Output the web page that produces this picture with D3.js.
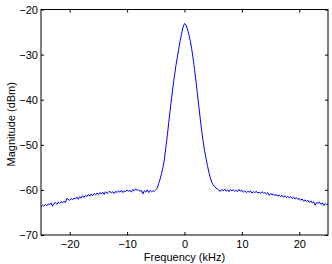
<!DOCTYPE html>
<html>
<head>
<meta charset="utf-8">
<script src="https://cdn.jsdelivr.net/npm/d3@7"></script>
<style>
html,body{margin:0;padding:0;background:#fff;}
svg{display:block;}
text{font-family:"Liberation Sans",Arial,Helvetica,sans-serif;font-size:11px;fill:#000;}
</style>
</head>
<body>
<svg id="chart" width="332" height="264"></svg>
<script>
// Frequency grid (kHz), 0.25 kHz spacing from -25 to 25
const freqStart = -25, freqStep = 0.25;

// Magnitude (dBm), left noise floor (-25 .. -5.25 kHz)
const magLeft = [
  -63.7,-63.4,-63.6,-63.2,-63.5,-63.1,-63.3,-62.9,-63.6,-63.0,
  -62.8,-63.2,-62.7,-63.0,-62.6,-62.9,-62.5,-62.8,-61.9,-62.1,
  -62.3,-61.9,-62.2,-61.8,-62.0,-61.6,-62.1,-61.5,-61.8,-61.3,
  -61.7,-61.2,-61.5,-61.0,-61.4,-60.9,-61.3,-60.8,-61.1,-60.7,
  -61.0,-60.6,-60.9,-60.5,-61.0,-60.4,-60.8,-60.5,-60.3,-60.7,
  -60.4,-60.8,-60.3,-60.6,-60.2,-60.5,-60.1,-60.6,-60.2,-60.4,
  -60.0,-60.3,-60.1,-60.5,-59.9,-60.2,-59.8,-60.1,-60.0,-60.3,
  -60.1,-60.9,-60.2,-60.5,-60.0,-60.6,-60.1,-60.4,-60.2,-60.3
];
// Central peak (-5 .. 6 kHz)
const magPeak = [
  -60.0,-59.6,-58.6,-57.6,-56.4,-55.0,-53.2,-50.6,-48.0,-45.1,
  -42.3,-39.6,-37.1,-34.7,-32.5,-30.6,-28.7,-26.9,-25.3,-23.9,
  -23.1,-23.4,-24.3,-25.5,-26.9,-28.7,-30.9,-33.3,-35.9,-38.7,
  -41.5,-44.3,-47.0,-49.3,-51.3,-53.0,-54.6,-56.1,-57.3,-58.3,
  -58.9,-59.3,-59.6,-59.8,-60.1
];
// Right noise floor (6.25 .. 25 kHz)
const magRight = [
  -60.3,-59.9,-60.2,-59.8,-60.3,-60.0,-60.4,-59.9,-60.2,-60.0,
  -60.3,-60.1,-60.4,-59.9,-60.3,-60.1,-60.5,-60.2,-60.6,-60.3,
  -60.5,-60.2,-60.7,-60.4,-60.6,-60.3,-60.7,-60.5,-60.8,-60.4,
  -60.7,-60.6,-60.9,-60.6,-61.2,-60.8,-61.1,-60.9,-61.3,-61.0,
  -61.4,-61.1,-61.5,-61.2,-61.6,-61.3,-61.7,-61.4,-61.8,-61.5,
  -61.9,-61.6,-62.0,-61.7,-62.1,-61.9,-62.3,-62.0,-62.5,-62.2,
  -62.6,-62.3,-62.8,-62.4,-62.9,-62.6,-63.4,-62.8,-63.0,-62.7,
  -63.2,-62.9,-63.5,-63.0,-63.3,-63.1
];

const xTicks = [-20, -10, 0, 10, 20];
const yTicks = [-70, -60, -50, -40, -30, -20];
const xLabel = "Frequency (kHz)";
const yLabel = "Magnitude (dBm)";

const mags = magLeft.concat(magPeak, magRight);
const data = mags.map((m, i) => ({ f: freqStart + i * freqStep, m: m }));

const L = 41, R = 328, T = 9.5, B = 235;
const x = d3.scaleLinear().domain([-25, 25]).range([L, R]);
const y = d3.scaleLinear().domain([-70, -20]).range([B, T]);

const svg = d3.select("#chart");
const fmt = v => (v < 0 ? "\u2212" + Math.abs(v) : String(v));

// data line
svg.append("path")
  .datum(data)
  .attr("fill", "none")
  .attr("stroke", "#0000ff")
  .attr("stroke-width", 1)
  .attr("stroke-linejoin", "round")
  .attr("d", d3.line().x(d => x(d.f)).y(d => y(d.m)));

// axes (inward ticks, mirrored)
const tl = 3;
svg.append("g").attr("transform", `translate(0,${B})`)
  .call(d3.axisBottom(x).tickValues(xTicks).tickSizeInner(-tl).tickSizeOuter(0).tickFormat(fmt))
  .call(g => g.select(".domain").remove())
  .call(g => g.selectAll("text").attr("dy", null).attr("y", 12.5));
svg.append("g").attr("transform", `translate(0,${T})`)
  .call(d3.axisTop(x).tickValues(xTicks).tickSizeInner(-tl).tickSizeOuter(0).tickFormat(""))
  .call(g => g.select(".domain").remove());
svg.append("g").attr("transform", `translate(${L},0)`)
  .call(d3.axisLeft(y).tickValues(yTicks).tickSizeInner(-tl).tickSizeOuter(0).tickFormat(fmt))
  .call(g => g.select(".domain").remove())
  .call(g => g.selectAll("text").attr("x", -3).attr("dy", "0.36em"));
svg.append("g").attr("transform", `translate(${R},0)`)
  .call(d3.axisRight(y).tickValues(yTicks).tickSizeInner(-tl).tickSizeOuter(0).tickFormat(""))
  .call(g => g.select(".domain").remove());

svg.selectAll(".tick line").attr("stroke", "#000");
svg.selectAll(".tick text").style("font-size", "11px").style("font-family", '"Liberation Sans",Arial,sans-serif').attr("fill", "#000");

// box
svg.append("rect")
  .attr("x", L).attr("y", T)
  .attr("width", R - L).attr("height", B - T)
  .attr("fill", "none").attr("stroke", "#000").attr("stroke-width", 1);

// labels
svg.append("text")
  .attr("x", (L + R) / 2).attr("y", 260.5)
  .attr("text-anchor", "middle")
  .text(xLabel);
svg.append("text")
  .attr("transform", `translate(14.5,${(T + B) / 2 + 2}) rotate(-90)`)
  .attr("text-anchor", "middle")
  .text(yLabel);
</script>
</body>
</html>
